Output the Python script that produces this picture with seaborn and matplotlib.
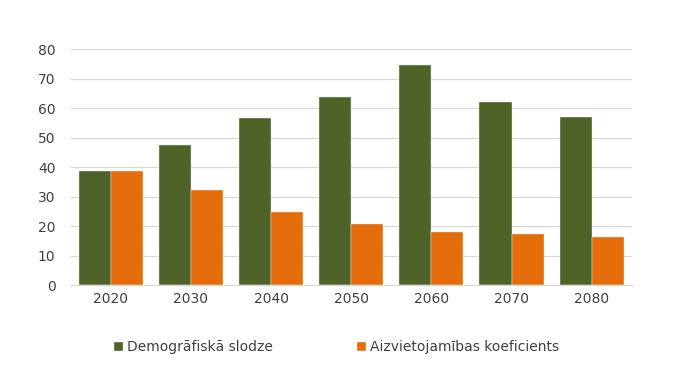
import matplotlib
matplotlib.use("Agg")
import matplotlib.pyplot as plt
import seaborn as sns
import pandas as pd

years = ["2020", "2030", "2040", "2050", "2060", "2070", "2080"]
demografiska = [38.7, 47.3, 56.7, 63.8, 74.5, 61.9, 56.8]
aizvietojamibas = [38.8, 32.1, 24.6, 20.6, 17.9, 17.4, 16.2]
series_names = ["Demogrāfiskā slodze", "Aizvietojamības koeficients"]
colors = ["#4F6228", "#E46C0A"]

df = pd.DataFrame({
    "year": years * 2,
    "value": demografiska + aizvietojamibas,
    "series": [series_names[0]] * len(years) + [series_names[1]] * len(years),
})

sns.set_theme(style="white")
plt.rcParams["font.family"] = ["DejaVu Sans"]

fig = plt.figure(figsize=(6.75, 3.68), dpi=100)
ax = fig.add_axes([0.1047, 0.2255, 0.8313, 0.6413])

sns.barplot(data=df, x="year", y="value", hue="series", palette=colors,
            width=0.8, saturation=1, edgecolor="#f0f0f0", linewidth=0.3,
            ax=ax, legend=True)

ax.set_ylim(0, 80)
ax.set_yticks(range(0, 81, 10))
ax.set_xlim(-0.5, len(years) - 0.5)
ax.grid(axis="y", color="#d9d9d9", linewidth=0.9)
ax.set_axisbelow(True)
for s in ["top", "right", "left"]:
    ax.spines[s].set_visible(False)
ax.spines["bottom"].set_color("#d9d9d9")
ax.spines["bottom"].set_linewidth(0.9)
ax.tick_params(axis="both", length=0, labelsize=10, colors="#404040", pad=5)
ax.tick_params(axis="y", pad=11)
ax.set_xlabel("")
ax.set_ylabel("")

handles, labels = ax.get_legend_handles_labels()
ax.get_legend().remove()
fig.legend(handles, labels, loc="center", bbox_to_anchor=(0.4985, 0.057),
           ncol=2, frameon=False, fontsize=10, handlelength=0.65,
           handleheight=0.65, handletextpad=0.3, columnspacing=6.0,
           labelcolor="#404040")

fig.savefig("out.png", dpi=100, facecolor="white")
